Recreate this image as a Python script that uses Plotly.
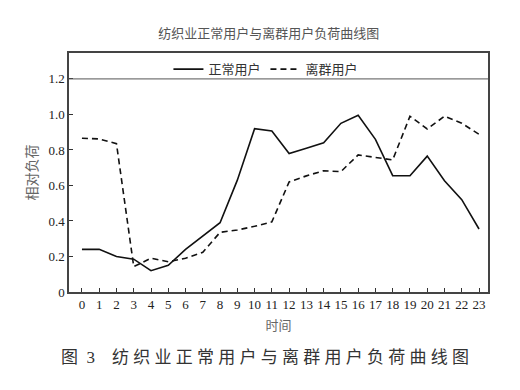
import plotly.graph_objects as go

hours = list(range(24))
normal = [0.24, 0.24, 0.20, 0.185, 0.12, 0.15, 0.24, 0.315, 0.39, 0.63, 0.92, 0.907,
          0.78, 0.81, 0.84, 0.95, 0.995, 0.86, 0.655, 0.655, 0.765, 0.627, 0.52, 0.355]
outlier = [0.866, 0.862, 0.835, 0.143, 0.19, 0.17, 0.19, 0.224, 0.336, 0.349, 0.37, 0.395,
           0.62, 0.654, 0.683, 0.678, 0.772, 0.757, 0.744, 0.99, 0.918, 0.99, 0.95, 0.888]
ytick_vals = [0, 0.2, 0.4, 0.6, 0.8, 1.0, 1.2]
ytick_text = ["0", "0.2", "0.4", "0.6", "0.8", "1.0", "1.2"]

serif = "Liberation Serif, Noto Sans CJK SC"
cjk = "Noto Sans CJK SC"

fig = go.Figure()
fig.add_trace(go.Scatter(x=hours, y=normal, mode="lines", name="正常用户",
                         line=dict(color="#111", width=1.6)))
fig.add_trace(go.Scatter(x=hours, y=outlier, mode="lines", name="离群用户",
                         line=dict(color="#111", width=1.6, dash="6px,4px")))

fig.add_hline(y=1.2, line=dict(color="#555", width=1))

fig.update_layout(
    width=520, height=390,
    margin=dict(l=69, r=32, t=53, b=98),
    paper_bgcolor="white", plot_bgcolor="white",
    showlegend=True,
    legend=dict(orientation="h", x=0.47, y=0.995, xanchor="center", yanchor="top",
                font=dict(family=cjk, size=13, color="#333"),
                bgcolor="rgba(0,0,0,0)", itemwidth=30, tracegroupgap=0),
    title=dict(text="纺织业正常用户与离群用户负荷曲线图", x=0.517, xanchor="center",
               y=0.915, yanchor="middle", font=dict(family=cjk, size=13, color="#555")),
    xaxis=dict(range=[-0.75, 23.52], tickvals=hours, ticktext=[str(h) for h in hours],
               ticks="inside", ticklen=4, tickcolor="#333", showgrid=False, zeroline=False,
               showline=True, linecolor="#444", linewidth=1.5, mirror=True,
               tickfont=dict(family=serif, size=13, color="#222"),
               title=dict(text="时间", font=dict(family=cjk, size=13, color="#666"), standoff=10)),
    yaxis=dict(range=[0, 1.346], tickvals=ytick_vals, ticktext=ytick_text,
               ticks="inside", ticklen=4, tickcolor="#333", showgrid=False, zeroline=False,
               showline=True, linecolor="#444", linewidth=1.5, mirror=True,
               tickfont=dict(family=serif, size=13, color="#222"),
               title=dict(text="相对负荷", font=dict(family=cjk, size=14, color="#666"), standoff=8)),
)

nb = "\u00a0"
caption = "图" + nb * 2 + "3" + nb * 4 + nb.join("纺织业正常用户与离群用户负荷曲线图")
fig.add_annotation(text=caption, xref="paper", yref="paper", x=-0.025, y=-0.272,
                   xanchor="left", yanchor="middle", showarrow=False,
                   font=dict(family="Liberation Serif, Noto Sans CJK SC", size=17, color="#333"))

fig.write_html("out.html")
